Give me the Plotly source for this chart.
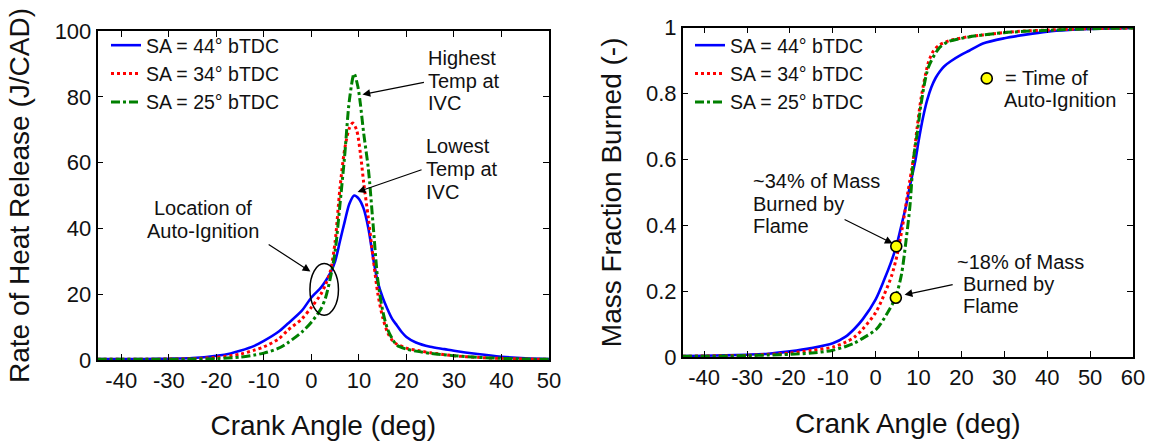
import plotly.graph_objects as go

# ---------------- data: left panel (rate of heat release) ----------------
series_names = ["SA = 44° bTDC", "SA = 34° bTDC", "SA = 25° bTDC"]

hrr44_x = [-45, -40, -35, -30, -25, -20, -17, -15, -12, -10, -7, -5, -2, 0, 2, 3, 4, 5, 6, 7, 8, 9, 10, 11, 12, 13, 14, 15, 16, 17, 18, 19, 20, 22, 25, 28, 30, 35, 40, 45, 50]
hrr44_y = [0.3, 0.3, 0.3, 0.4, 0.6, 1.3, 2.0, 2.8, 4.3, 5.8, 8.5, 11, 15, 19, 22, 24, 26.5, 30, 36, 42, 47.5, 50, 49, 46, 40, 31, 23.5, 19, 15.5, 12.5, 10.5, 8.5, 7, 5.3, 4.0, 3.3, 2.8, 1.8, 1.0, 0.5, 0.3]

hrr34_x = [-45, -40, -35, -30, -25, -20, -15, -12, -10, -7, -5, -2, 0, 2, 3, 4, 5, 6, 7, 8, 8.7, 9.5, 10.3, 11, 12, 13, 14, 15, 16, 17, 18, 20, 23, 25, 30, 35, 40, 45, 50]
hrr34_y = [0.2, 0.2, 0.2, 0.3, 0.4, 0.8, 1.8, 3.0, 4.0, 6.3, 9.0, 12.5, 16, 20, 23, 27, 36, 52, 64, 70.5, 72, 70, 63, 54, 43, 31, 20, 13, 8.5, 6.0, 4.8, 3.6, 2.7, 2.2, 1.3, 0.8, 0.5, 0.3, 0.2]

hrr25_x = [-45, -40, -35, -30, -25, -20, -15, -12, -10, -7, -5, -2, 0, 2, 3, 4, 5, 6, 7, 8, 9, 9.8, 10.3, 11, 12, 13, 14, 15, 16, 17, 18, 20, 22, 25, 30, 35, 40, 45, 50]
hrr25_y = [0.2, 0.2, 0.2, 0.2, 0.3, 0.4, 0.9, 1.5, 2.1, 3.5, 5.2, 8.5, 11.5, 15.5, 19, 25, 33, 47, 62, 79, 87, 83, 78, 69, 58, 41, 24, 15, 9.5, 6.5, 4.5, 3.3, 2.7, 2.0, 1.3, 0.8, 0.5, 0.3, 0.2]

hrr_xticks = [-40, -30, -20, -10, 0, 10, 20, 30, 40, 50]
hrr_xticklabels = ["-40", "-30", "-20", "-10", "0", "10", "20", "30", "40", "50"]

# ---------------- data: right panel (mass fraction burned) ----------------
mfb44_x = [-45, -40, -35, -30, -25, -20, -15, -10, -7, -5, -3, 0, 2, 3.5, 4.8, 6, 7, 8, 9.3, 10, 11, 12, 13, 14, 15, 16, 17.5, 20, 21.8, 25, 30, 35, 40, 45, 50, 55, 60]
mfb44_y = [0.003, 0.004, 0.005, 0.007, 0.010, 0.017, 0.027, 0.042, 0.062, 0.085, 0.115, 0.175, 0.235, 0.285, 0.336, 0.40, 0.455, 0.52, 0.60, 0.655, 0.725, 0.78, 0.82, 0.848, 0.868, 0.883, 0.898, 0.918, 0.93, 0.952, 0.968, 0.979, 0.988, 0.993, 0.996, 0.998, 0.999]

mfb34_x = [-45, -40, -35, -30, -25, -20, -15, -10, -7, -5, -3, 0, 2, 3.7, 5, 6.25, 7.5, 8.85, 9.7, 10.6, 12.3, 13.5, 14.9, 17, 21.8, 25, 30, 34.8, 40, 50, 60]
mfb34_y = [0.002, 0.003, 0.004, 0.005, 0.008, 0.012, 0.020, 0.030, 0.045, 0.060, 0.085, 0.135, 0.19, 0.246, 0.31, 0.396, 0.50, 0.607, 0.70, 0.787, 0.895, 0.93, 0.948, 0.96, 0.973, 0.978, 0.985, 0.99, 0.993, 0.997, 0.999]

mfb25_x = [-45, -40, -35, -30, -25, -20, -15, -10.2, -7, -5, -3.25, 0.2, 2.8, 4.6, 6, 7.1, 8, 8.8, 9.7, 10.6, 12.3, 14.9, 17, 21.8, 25, 30, 34.8, 40, 50, 60]
mfb25_y = [0.002, 0.002, 0.003, 0.004, 0.006, 0.008, 0.012, 0.020, 0.032, 0.042, 0.055, 0.085, 0.135, 0.18, 0.25, 0.356, 0.46, 0.60, 0.68, 0.77, 0.88, 0.94, 0.958, 0.972, 0.978, 0.985, 0.989, 0.992, 0.997, 0.999]

mfb_xticks = [-40, -30, -20, -10, 0, 10, 20, 30, 40, 50, 60]
mfb_xticklabels = ["-40", "-30", "-20", "-10", "0", "10", "20", "30", "40", "50", "60"]

# auto-ignition points and key marker
ign_x = [4.8, 4.7]
ign_y = [0.336, 0.18]
key_x = [25.9]
key_y = [0.846]

colors = ["#0000ff", "#ff0000", "#008000"]
dashes = ["solid", "dot", "dashdot"]
widths = [2.6, 3, 3]

FONT = "Liberation Sans, Arial, sans-serif"
TXT = "#111111"

fig = go.Figure()

left = [(hrr44_x, hrr44_y), (hrr34_x, hrr34_y), (hrr25_x, hrr25_y)]
right = [(mfb44_x, mfb44_y), (mfb34_x, mfb34_y), (mfb25_x, mfb25_y)]

for i, (xs, ys) in enumerate(left):
    fig.add_trace(go.Scatter(x=xs, y=ys, mode="lines", name=series_names[i],
                             line=dict(color=colors[i], dash=dashes[i], width=widths[i],
                                       shape="spline", smoothing=0.8),
                             xaxis="x", yaxis="y", legend="legend"))
for i, (xs, ys) in enumerate(right):
    fig.add_trace(go.Scatter(x=xs, y=ys, mode="lines", name=series_names[i],
                             line=dict(color=colors[i], dash=dashes[i], width=widths[i],
                                       shape="spline", smoothing=0.8),
                             xaxis="x2", yaxis="y2", legend="legend2"))

marker_style = dict(color="#ffff00", size=11, line=dict(color="black", width=1.6))
fig.add_trace(go.Scatter(x=ign_x, y=ign_y, mode="markers", marker=marker_style,
                         showlegend=False, xaxis="x2", yaxis="y2"))
fig.add_trace(go.Scatter(x=key_x, y=key_y, mode="markers", marker=marker_style,
                         showlegend=False, xaxis="x2", yaxis="y2"))

axis_common = dict(showline=True, linecolor="black", linewidth=1.5, mirror="ticks",
                   ticks="inside", ticklen=6, tickwidth=1.2, tickcolor="black",
                   showgrid=False, zeroline=False,
                   tickfont=dict(family=FONT, size=22, color=TXT))
title_font = dict(family=FONT, size=28, color=TXT)

W, H = 1162, 441
fig.update_layout(
    width=W, height=H,
    margin=dict(l=0, r=0, t=0, b=0, autoexpand=False),
    paper_bgcolor="white", plot_bgcolor="white",
    font=dict(family=FONT, color=TXT),
    xaxis=dict(domain=[97.5 / W, 549 / W], range=[-45, 50],
               tickmode="array", tickvals=hrr_xticks, ticktext=hrr_xticklabels,
               anchor="y", ticklabelstandoff=0,
               title=dict(text="Crank Angle (deg)", font=title_font, standoff=24),
               **axis_common),
    yaxis=dict(domain=[1 - 360 / H, 1 - 31 / H], range=[0, 100], dtick=20,
               anchor="x", ticklabelstandoff=0,
               title=dict(text="Rate of Heat Release (J/CAD)", font=title_font, standoff=17),
               **axis_common),
    xaxis2=dict(domain=[682.7 / W, 1133 / W], range=[-45, 60],
                tickmode="array", tickvals=mfb_xticks, ticktext=mfb_xticklabels,
                anchor="y2", ticklabelstandoff=0,
                title=dict(text="Crank Angle (deg)", font=title_font, standoff=24),
                **axis_common),
    yaxis2=dict(domain=[1 - 357 / H, 1 - 27.7 / H], range=[0, 1], dtick=0.2,
                anchor="x2", ticklabelstandoff=0,
                title=dict(text="Mass Fraction Burned (-)", font=title_font, standoff=16),
                **axis_common),
    legend=dict(x=106 / W, y=1 - 26 / H, xanchor="left", yanchor="top",
                bgcolor="rgba(0,0,0,0)", font=dict(family=FONT, size=19.5, color=TXT),
                tracegroupgap=0),
    legend2=dict(x=690 / W, y=1 - 26 / H, xanchor="left", yanchor="top",
                 bgcolor="rgba(0,0,0,0)", font=dict(family=FONT, size=19.5, color=TXT),
                 tracegroupgap=0),
)

ann_font = dict(family=FONT, size=20, color=TXT)

def text_line(txt, x, y, xref, yref, xanchor="left"):
    fig.add_annotation(text=txt, x=x, y=y, xref=xref, yref=yref, showarrow=False,
                       xanchor=xanchor, yanchor="middle", font=ann_font)

def arrow(hx, hy, tx, ty, xref, yref):
    fig.add_annotation(text="", x=hx, y=hy, ax=tx, ay=ty, xref=xref, yref=yref,
                       axref=xref, ayref=yref, showarrow=True, arrowhead=2,
                       arrowsize=1.3, arrowwidth=1.2, arrowcolor="black")

# left panel annotations
for t, y in zip(["Highest", "Temp at", "IVC"], [91.8, 84.8, 78.0]):
    text_line(t, 24.05, y, "x", "y")
arrow(10.75, 80.7, 24.0, 84.5, "x", "y")
for t, y in zip(["Lowest", "Temp at", "IVC"], [65.1, 58.1, 51.2]):
    text_line(t, 23.65, y, "x", "y")
arrow(9.72, 51.1, 23.5, 58.0, "x", "y")
for t, y in zip(["Location of", "Auto-Ignition"], [46.2, 39.3]):
    text_line(t, -22.8, y, "x", "y", xanchor="center")
arrow(-0.2, 26.9, -9.3, 35.4, "x", "y")
fig.add_shape(type="circle", xref="x", yref="y", x0=-0.3, x1=5.7, y0=13.6, y1=29.3,
              line=dict(color="black", width=1.5))

# right panel annotations
for t, y in zip(["~34% of Mass", "Burned by", "Flame"], [0.533, 0.466, 0.397]):
    text_line(t, -29.1, y, "x2", "y2")
arrow(3.96, 0.345, -7.6, 0.42, "x2", "y2")
text_line("~18% of Mass", 18.5, 0.29, "x2", "y2")
for t, y in zip(["Burned by", "Flame"], [0.221, 0.154]):
    text_line(t, 19.8, y, "x2", "y2")
arrow(6.74, 0.189, 18.3, 0.221, "x2", "y2")
text_line("= Time of", 29.8, 0.846, "x2", "y2")
text_line("Auto-Ignition", 29.5, 0.78, "x2", "y2")

fig.write_html("out.html")
